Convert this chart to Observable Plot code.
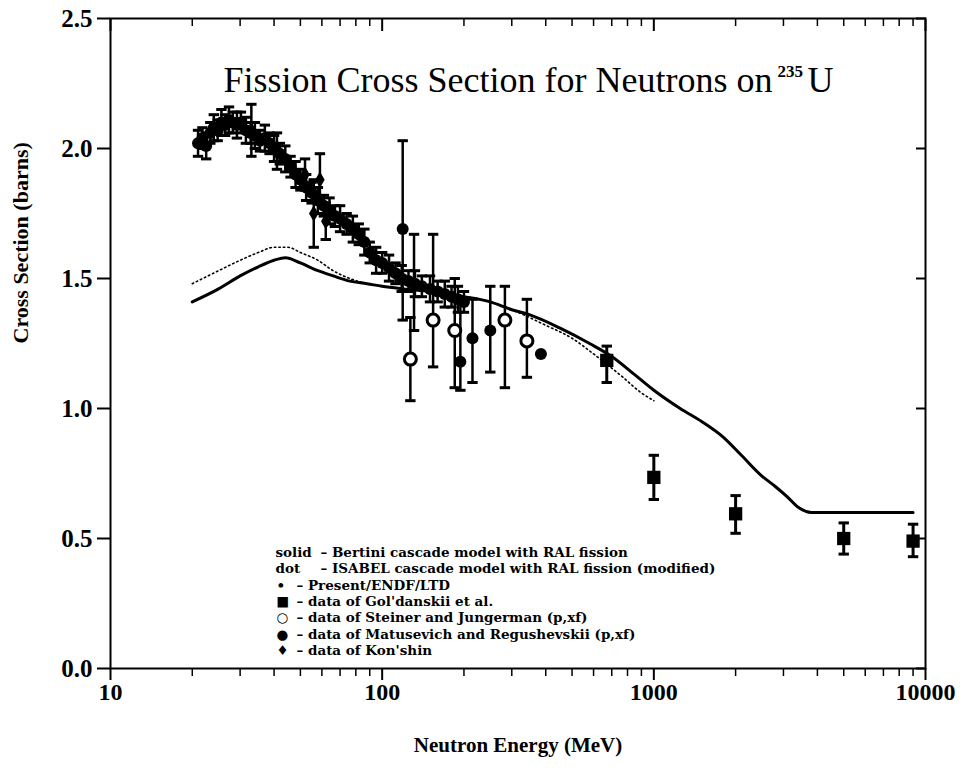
<!DOCTYPE html>
<html><head><meta charset="utf-8">
<script src="https://cdn.jsdelivr.net/npm/d3@7"></script>
<script src="https://cdn.jsdelivr.net/npm/@observablehq/plot@0.6"></script>
<style>body{margin:0;background:#fff} svg{display:block}</style>
</head><body><div id="chart"></div>
<script>
// ---- tick labels ----
const xMajorTicks = [10, 100, 1000, 10000];
const xMinorTicks = [20,30,40,50,60,70,80,90,200,300,400,500,600,700,800,900,2000,3000,4000,5000,6000,7000,8000,9000];
const yTicks = [0, 0.5, 1.0, 1.5, 2.0, 2.5];

// ---- model curves ----
const bertiniE = [20,25,30,35,40,44,50,58,66,76,88,100,120,150,200,250,300,350,450,580,700,850,1000,1250,1500,1800,2100,2500,2800,3100,3400,3800,4500,6000,9000];
const bertiniV = [1.41,1.46,1.51,1.545,1.57,1.58,1.56,1.53,1.51,1.49,1.48,1.47,1.46,1.45,1.43,1.41,1.38,1.36,1.31,1.25,1.20,1.13,1.07,1.00,0.95,0.89,0.82,0.74,0.70,0.66,0.62,0.60,0.60,0.60,0.60];
const isabelE = [20,25,30,35,40,45,50,58,66,76,88,100,120,150,200,250,300,400,500,600,770,900,1000];
const isabelV = [1.48,1.53,1.57,1.60,1.62,1.62,1.60,1.57,1.53,1.50,1.48,1.47,1.46,1.45,1.43,1.41,1.38,1.32,1.27,1.21,1.12,1.06,1.03];

// ---- present data ----
const presentE = [21.0,21.8,22.5,23.3,24.0,24.8,25.6,26.4,27.3,28.2,29.2,30.2,31.5,32.8,34.0,35.5,37.0,38.5,40.0,42.0,44.0,46.0,48.0,50.0,52.5,55.0,58.0,61.0,64.0,67.0,70.0,74.0,78.0,82.0,86.0,90.0,95.0,100,106,112,118,125,132,140,150,160,170,180,190,200];
const presentV = [2.02,2.04,2.01,2.06,2.08,2.07,2.10,2.09,2.11,2.10,2.09,2.10,2.07,2.06,2.05,2.03,2.04,2.02,2.00,1.98,1.96,1.93,1.90,1.88,1.85,1.83,1.80,1.78,1.76,1.74,1.73,1.71,1.69,1.67,1.64,1.60,1.57,1.56,1.54,1.52,1.50,1.49,1.48,1.47,1.46,1.45,1.44,1.43,1.42,1.41];
const presentErr = [0.05,0.04,0.05,0.04,0.05,0.04,0.05,0.04,0.05,0.04,0.05,0.04,0.05,0.04,0.05,0.04,0.05,0.04,0.05,0.04,0.05,0.04,0.05,0.04,0.05,0.04,0.05,0.04,0.05,0.04,0.05,0.04,0.05,0.04,0.05,0.04,0.05,0.04,0.05,0.04,0.05,0.04,0.05,0.04,0.05,0.04,0.05,0.04,0.05,0.04];

// ---- Gol'danskii et al. ----
const goldE = [671, 1000, 2000, 5000, 9000];
const goldV = [1.185, 0.735, 0.595, 0.50, 0.49];
const goldLo = [1.10, 0.65, 0.52, 0.44, 0.43];
const goldHi = [1.24, 0.82, 0.665, 0.56, 0.555];

// ---- Steiner and Jungerman ----
const steinE = [127, 154, 185, 283, 341];
const steinV = [1.19, 1.34, 1.30, 1.34, 1.26];
const steinLo = [1.03, 1.16, 1.08, 1.08, 1.12];
const steinHi = [1.35, 1.67, 1.50, 1.47, 1.42];

// ---- Matusevich and Regushevskii ----
const matE = [119, 131, 194, 215, 250, 384];
const matV = [1.69, 1.48, 1.18, 1.27, 1.30, 1.21];
const matLo = [1.34, 1.30, 1.07, 1.10, 1.14, 1.21];
const matHi = [2.03, 1.67, 1.42, 1.42, 1.47, 1.21];

// ---- Kon'shin ----
const konE = [33, 41, 52, 56, 59, 62];
const konV = [2.07, 1.99, 1.90, 1.75, 1.88, 1.72];
const konLo = [1.97, 1.92, 1.84, 1.62, 1.79, 1.65];
const konHi = [2.17, 2.06, 1.96, 1.88, 1.98, 1.79];

// ---- text ----
const titleMain = "Fission Cross Section for Neutrons on";
const titleSup = "235";
const titleEl = "U";
const xLabel = "Neutron Energy (MeV)";
const yLabel = "Cross Section (barns)";
const legendKeysA = ["solid", "dot"];
const legendDescA = ["– Bertini cascade model with RAL fission", "– ISABEL cascade model with RAL fission (modified)"];
const legendSymbols = ["•", "■", "○", "●", "♦"];
const legendDescB = ["– Present/ENDF/LTD", "– data of Gol'danskii et al.", "– data of Steiner and Jungerman (p,xf)", "– data of Matusevich and Regushevskii (p,xf)", "– data of Kon'shin"];

const line = (E, V) => E.map((e, i) => ({E: e, V: V[i]}));
const pts = (E, V, lo, hi) => E.map((e, i) => ({E: e, V: V[i], lo: lo[i], hi: hi[i]}));
const bertini = line(bertiniE, bertiniV);
const isabel = line(isabelE, isabelV);
const present = presentE.map((e, i) => ({E: e, V: presentV[i], lo: presentV[i] - presentErr[i], hi: presentV[i] + presentErr[i]}));
const gold = pts(goldE, goldV, goldLo, goldHi);
const stein = pts(steinE, steinV, steinLo, steinHi);
const mat = pts(matE, matV, matLo, matHi);
const kon = pts(konE, konV, konLo, konHi);

const capF = 1.045;
function errorBars(data, w = 2) {
  return [
    Plot.ruleX(data, {x: "E", y1: "lo", y2: "hi", stroke: "black", strokeWidth: w}),
    Plot.link(data, {x1: d => d.E / capF, x2: d => d.E * capF, y1: "hi", y2: "hi", stroke: "black", strokeWidth: 3}),
    Plot.link(data, {x1: d => d.E / capF, x2: d => d.E * capF, y1: "lo", y2: "lo", stroke: "black", strokeWidth: 3})
  ];
}

const F = "Liberation Serif";
const LF = "DejaVu Serif";
const legendFont = 13.5;
const legendLH = 16.3 / legendFont;
const legendStyle = {frameAnchor: "top-left", textAnchor: "start", lineAnchor: "top", lineHeight: legendLH, fontSize: legendFont, fontWeight: "bold", fontFamily: LF};
const chart = Plot.plot({
  width: 966, height: 772,
  marginLeft: 110, marginRight: 41, marginTop: 18, marginBottom: 104,
  style: {fontFamily: F, background: "white", color: "black"},
  x: {type: "log", domain: [10, 10000]},
  y: {domain: [0, 2.5]},
  marks: [
    Plot.frame({stroke: "black", strokeWidth: 2}),
    // bottom axis: labels, major & minor ticks (outward)
    Plot.axisX({anchor: "bottom", ticks: xMajorTicks, tickSize: 0, tickPadding: 14, tickFormat: d => String(d), fontSize: 24, fontWeight: "bold", label: null}),
    Plot.axisX({anchor: "bottom", ticks: xMajorTicks, tickSize: 12, text: null, strokeWidth: 2, label: null}),
    Plot.axisX({anchor: "bottom", ticks: xMinorTicks, tickSize: 8, text: null, strokeWidth: 1.5, label: null}),
    // top axis ticks (inward)
    Plot.axisX({anchor: "top", ticks: xMajorTicks, tickSize: 12, dy: 12, text: null, strokeWidth: 2, label: null}),
    Plot.axisX({anchor: "top", ticks: xMinorTicks, tickSize: 7, dy: 7, text: null, strokeWidth: 1.5, label: null}),
    // left axis
    Plot.axisY({anchor: "left", ticks: yTicks, tickSize: 13, tickPadding: 5, tickFormat: d3.format(".1f"), fontSize: 25, fontWeight: "bold", strokeWidth: 2, label: null}),
    // right axis ticks (inward)
    Plot.axisY({anchor: "right", ticks: yTicks, tickSize: 10, dx: -10, text: null, strokeWidth: 2, label: null}),
    // axis labels
    Plot.text([xLabel], {text: d => d, frameAnchor: "bottom", dy: 77, lineAnchor: "middle", fontSize: 21, fontWeight: "bold"}),
    Plot.text([yLabel], {text: d => d, frameAnchor: "left", dx: -90, rotate: -90, fontSize: 22, fontWeight: "bold"}),
    // title
    Plot.text([titleMain], {text: d => d, frameAnchor: "top-left", dx: 662, dy: 62, lineAnchor: "middle", textAnchor: "end", fontSize: 36}),
    Plot.text([titleSup], {text: d => d, frameAnchor: "top-left", dx: 667, dy: 53, lineAnchor: "middle", textAnchor: "start", fontSize: 17, fontWeight: "bold"}),
    Plot.text([titleEl], {text: d => d, frameAnchor: "top-left", dx: 697, dy: 62, lineAnchor: "middle", textAnchor: "start", fontSize: 36}),
    // model curves
    Plot.line(isabel, {x: "E", y: "V", stroke: "black", strokeWidth: 1.6, strokeDasharray: "1.5,3", curve: "monotone-x"}),
    Plot.line(bertini, {x: "E", y: "V", stroke: "black", strokeWidth: 3, curve: "monotone-x"}),
    // data
    ...errorBars(present, 2.5),
    Plot.dot(present, {x: "E", y: "V", r: 6, fill: "black"}),
    ...errorBars(kon, 2.5),
    Plot.dot(kon, {x: "E", y: "V", symbol: "diamond", r: 5, fill: "black"}),
    ...errorBars(mat, 2.5),
    Plot.dot(mat, {x: "E", y: "V", r: 6, fill: "black"}),
    ...errorBars(stein, 2.5),
    Plot.dot(stein, {x: "E", y: "V", r: 6, fill: "white", stroke: "black", strokeWidth: 3}),
    ...errorBars(gold, 3),
    Plot.dot(gold, {x: "E", y: "V", symbol: "square", r: 7.5, fill: "black"}),
    // legend
    Plot.text([legendKeysA.join("\n")], {...legendStyle, text: d => d, dx: 165, dy: 527}),
    Plot.text([legendDescA.join("\n")], {...legendStyle, text: d => d, dx: 210, dy: 527}),
    Plot.text([legendSymbols.join("\n")], {...legendStyle, text: d => d, dx: 166, dy: 559.6}),
    Plot.text([legendDescB.join("\n")], {...legendStyle, text: d => d, dx: 186, dy: 559.6})
  ]
});
document.getElementById("chart").appendChild(chart);
</script>
</body></html>
